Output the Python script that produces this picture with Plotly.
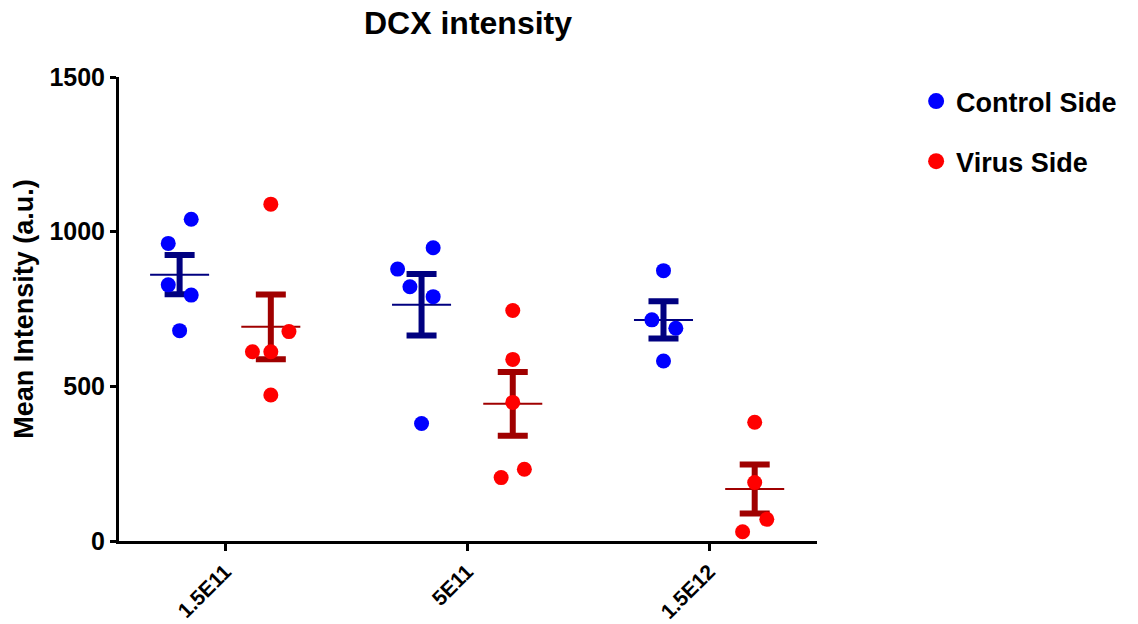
import numpy as np
import plotly.graph_objects as go

# ---- data ----
categories = ["1.5E11", "5E11", "1.5E12"]
series_names = ["Control Side", "Virus Side"]

control_values = [
    [1040, 962, 828, 795, 680],
    [948, 879, 822, 790, 380],
    [874, 715, 688, 582],
]
virus_values = [
    [1089, 677, 612, 612, 472],
    [745, 587, 448, 232, 205],
    [384, 189, 70, 30],
]
# horizontal scatter of points inside each column (column-width units)
control_jitter = [
    [0.048, -0.047, -0.047, 0.048, 0.0],
    [0.048, -0.099, -0.048, 0.048, 0.0],
    [0.0, -0.048, 0.051, 0.0],
]
virus_jitter = [
    [0.0, 0.075, -0.076, 0.0, 0.0],
    [0.0, 0.0, 0.0, 0.048, -0.048],
    [0.0, 0.0, 0.05, -0.05],
]

y_ticks = [0, 500, 1000, 1500]

# ---- styling ----
FONT = "Liberation Sans, Arial, sans-serif"
col_offset = 0.1885
mean_half = 0.122
styles = {
    "Control Side": dict(point="#0000FF", bar="#000080"),
    "Virus Side": dict(point="#FF0000", bar="#A00000"),
}

fig = go.Figure()

for name, values, jitter, sign in [
    ("Control Side", control_values, control_jitter, -1),
    ("Virus Side", virus_values, virus_jitter, 1),
]:
    st = styles[name]
    centers, means, sems = [], [], []
    for gi, vals in enumerate(values):
        arr = np.array(vals, dtype=float)
        centers.append(gi + sign * col_offset)
        means.append(arr.mean())
        sems.append(arr.std(ddof=1) / np.sqrt(len(arr)))

    # mean lines
    lx, ly = [], []
    for c, m in zip(centers, means):
        lx += [c - mean_half, c + mean_half, None]
        ly += [m, m, None]
    fig.add_trace(go.Scatter(
        x=lx, y=ly, mode="lines", line=dict(color=st["bar"], width=2),
        showlegend=False, hoverinfo="skip"))

    # SEM error bars
    fig.add_trace(go.Scatter(
        x=centers, y=means, mode="markers",
        marker=dict(size=1, color=st["bar"]),
        error_y=dict(type="data", array=sems, visible=True,
                     color=st["bar"], thickness=6, width=15),
        showlegend=False, hoverinfo="skip"))

    # individual points
    px, py = [], []
    for gi, (vals, jit) in enumerate(zip(values, jitter)):
        for v, j in zip(vals, jit):
            px.append(gi + sign * col_offset + j)
            py.append(v)
    fig.add_trace(go.Scatter(
        x=px, y=py, mode="markers",
        marker=dict(size=15, color=st["point"]),
        showlegend=False, name=name))

    # legend entry
    fig.add_trace(go.Scatter(
        x=[None], y=[None], mode="markers", name=name,
        marker=dict(size=17, color=st["point"]),
        legendgroup=name, showlegend=True))

fig.update_layout(
    width=1138, height=624,
    margin=dict(l=119, r=321, t=77, b=83, autoexpand=False),
    paper_bgcolor="white", plot_bgcolor="white",
    font=dict(family=FONT, color="black"),
    title=dict(text="DCX intensity", x=0.5, xref="paper", xanchor="center",
               y=1 - 23 / 624, yref="container", yanchor="middle",
               font=dict(size=32, family=FONT, weight="bold", color="black")),
    legend=dict(x=1.142, xanchor="left", y=1.0, yanchor="top",
                font=dict(size=27, family=FONT, weight="bold", color="black"),
                tracegroupgap=22, itemsizing="trace",
                bgcolor="rgba(0,0,0,0)"),
    showlegend=True,
)

fig.update_xaxes(
    range=[-0.439, 2.446], tickmode="array",
    tickvals=list(range(len(categories))), ticktext=categories,
    tickangle=-45, ticks="outside", ticklen=7, tickwidth=2.5, tickcolor="black",
    showline=True, linewidth=3, linecolor="black", showgrid=False, zeroline=False,
    automargin=False,
    tickfont=dict(size=21, family=FONT, weight="bold", color="black"),
)
fig.update_yaxes(
    range=[0, 1500], tickmode="array", tickvals=y_ticks,
    ticktext=[str(t) for t in y_ticks],
    ticks="outside", ticklen=6, tickwidth=2.5, tickcolor="black",
    showline=True, linewidth=3, linecolor="black", showgrid=False, zeroline=False,
    automargin=False,
    tickfont=dict(size=25, family=FONT, weight="bold", color="black"),
    title=dict(text="Mean Intensity (a.u.)", standoff=8,
               font=dict(size=27, family=FONT, weight="bold", color="black")),
)

fig.write_html("out.html",
               config={"displayModeBar": False},
               post_script="document.body.style.margin='0px';")
